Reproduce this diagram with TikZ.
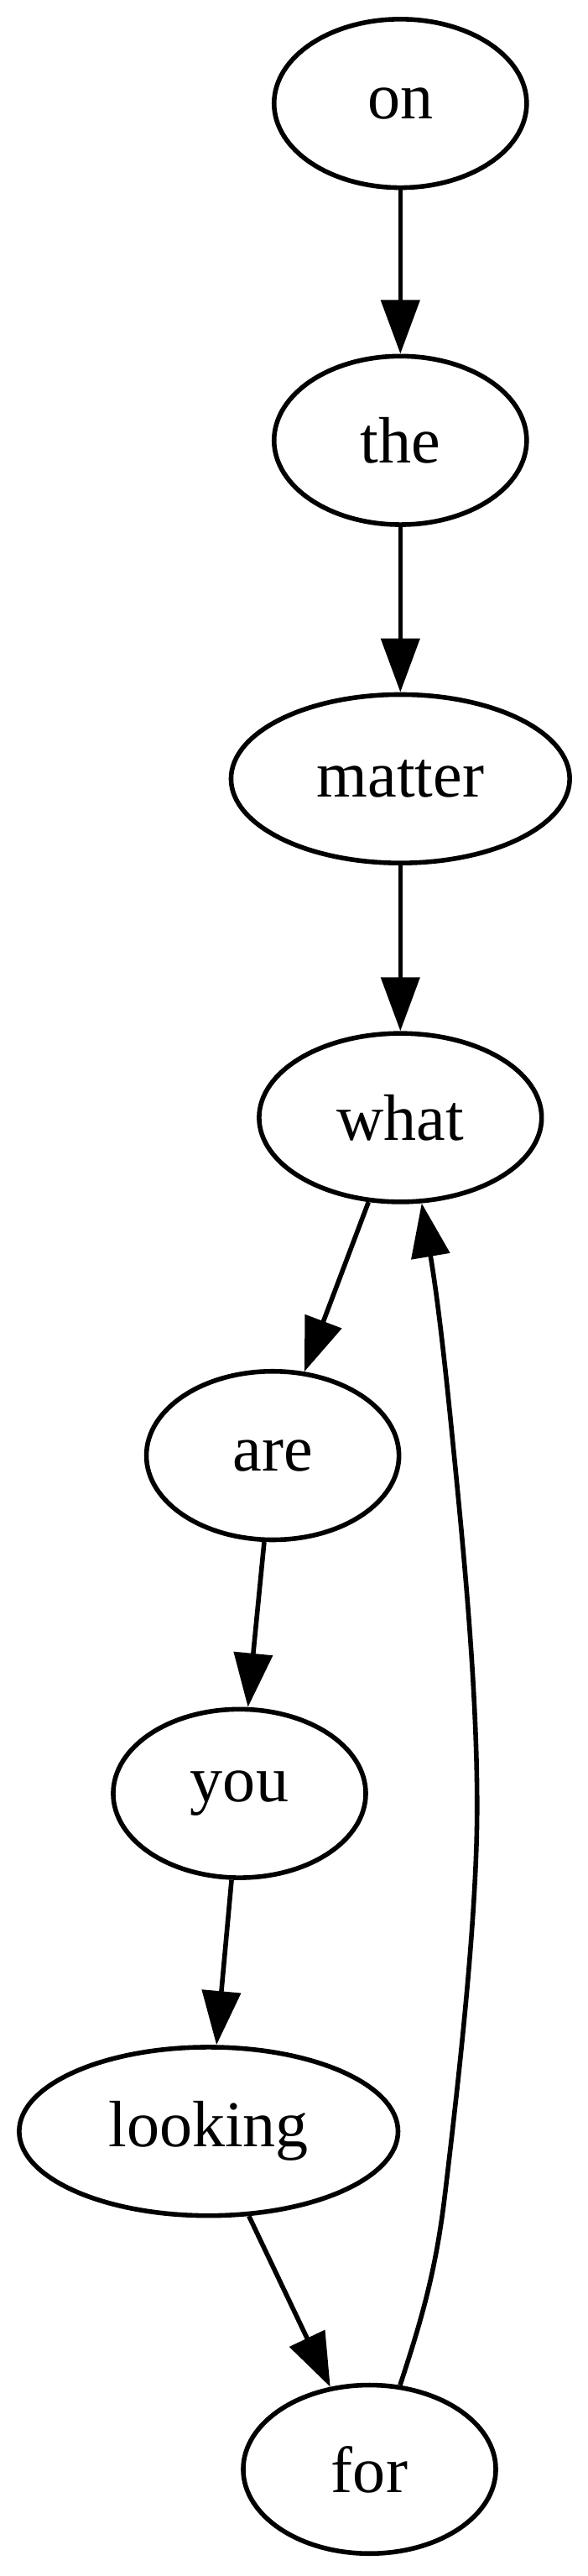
\documentclass[tikz,border=0pt]{standalone}
\usepackage{fontspec}
\setmainfont{Liberation Serif}
\usetikzlibrary{shapes.geometric,arrows.meta}
\begin{document}
\begin{tikzpicture}[x=1pt,y=1pt,
  gnode/.style={ellipse,draw,line width=1pt,inner sep=0pt,minimum width=54pt,minimum height=36pt,font=\fontsize{14}{16}\selectfont},
  gedge/.style={line width=1pt,-{Triangle[length=11.5pt,width=8.2pt]}}]
\useasboundingbox (0,0) rectangle (125.7,-550.4);
\node[gnode] (on) at (85.6,-22.1) {on};
\node[gnode] (the) at (85.6,-94.1) {the};
\node[gnode,minimum width=72.4pt] (matter) at (85.6,-166.4) {matter};
\node[gnode,minimum width=60.4pt] (what) at (85.6,-238.8) {what};
\node[gnode] (are) at (58.3,-311) {are};
\node[gnode] (you) at (51.2,-383.2) {you};
\node[gnode,minimum width=81pt] (looking) at (44.6,-455.4) {looking};
\node[gnode] (for) at (79,-527.6) {for};
\draw[gedge] (on) -- (the);
\draw[gedge] (the) -- (matter);
\draw[gedge] (matter) -- (what);
\draw[gedge] (what) -- (are);
\draw[gedge] (are) -- (you);
\draw[gedge] (you) -- (looking);
\draw[gedge] (looking) -- (for);
\draw[gedge] (for.70) .. controls (90,-496) and (93,-486) .. (95,-470)
  .. controls (98,-445) and (102,-410) .. (102,-386)
  .. controls (102,-360) and (99,-330) .. (96.5,-305)
  .. controls (95,-290) and (93.5,-277) .. (what.-76);
\end{tikzpicture}
\end{document}
